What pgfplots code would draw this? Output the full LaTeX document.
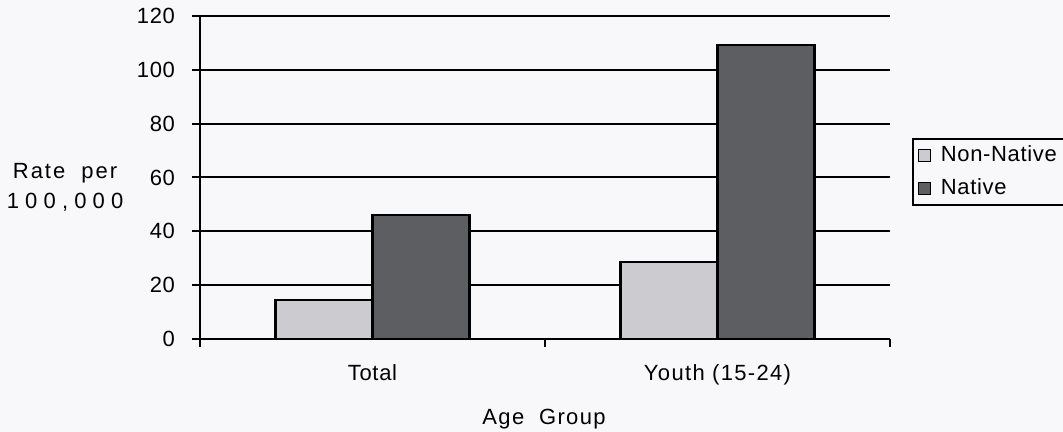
\documentclass[border=0pt]{standalone}
\usepackage{fontspec}
\setmainfont[LetterSpace=3]{Liberation Sans}
\newfontfamily\ylabfont[LetterSpace=28]{Liberation Sans}
\newfontfamily\ylabfontb[LetterSpace=9]{Liberation Sans}
\newfontfamily\midfont[LetterSpace=6]{Liberation Sans}
\usepackage{pgfplots}
\pgfplotsset{compat=1.18}
\definecolor{bgc}{RGB}{248,248,250}
\definecolor{nonnat}{RGB}{204,204,208}
\definecolor{nat}{RGB}{92,94,98}
\begin{document}
\begin{tikzpicture}[font=\fontsize{11}{13}\selectfont]
\fill[bgc] (-100pt,-46.5pt) rectangle (431.5pt,169.5pt);
\useasboundingbox (-100pt,-46.5pt) rectangle (431.5pt,169.5pt);
\begin{axis}[
  at={(0,0)}, anchor=origin,
  scale only axis, width=345pt, height=161.5pt,
  xmin=0, xmax=2, ymin=0, ymax=120,
  axis x line*=bottom, axis y line*=left,
  axis line style={line width=1pt, -},
  ytick={0,20,...,120},
  xtick={0,1,2}, xticklabels={},
  extra x ticks={0.5,1.5},
  extra x tick labels={Total,{\midfont Youth (15-24)}},
  extra x tick style={major tick length=0pt, xticklabel style={yshift=-9pt}},
  tick align=outside, major tick length=4pt,
  tick style={line width=1pt, black},
  ymajorgrids, grid style={line width=1pt, black},
  /pgf/number format/assume math mode=true,
  ticklabel style={font=\fontsize{11}{13}\selectfont},
  yticklabel style={xshift=-5pt},
  ybar=0pt, bar width=48.5pt,
  legend style={at={(rel axis cs:1.032,0.622)}, anchor=north west,
    draw=black, line width=0.8pt, fill=none, inner xsep=2pt, inner ysep=1.5pt,
    row sep=3pt, font=\fontsize{11}{13}\selectfont, cells={anchor=west}},
  legend image code/.code={\draw[#1, line width=0.6pt] (1pt,-3pt) rectangle (7pt,3pt); \path[draw=none, fill=none] (0pt,0pt) -- (10pt,0pt);},
  clip=false,
]
\addplot[fill=nonnat, draw=black, line width=1.2pt] coordinates {(0.5,14.5) (1.5,28.6)};
\addplot[fill=nat, draw=black, line width=1.2pt] coordinates {(0.5,46.1) (1.5,109.3)};
\legend{Non-Native,Native}
\node[align=center, inner sep=0pt] at (axis cs:-0.391,56.5) {{\ylabfontb\fontsize{11}{9}\selectfont Rate\ \ per}\\[2pt]{\ylabfont\fontsize{11}{9}\selectfont 100,000}};
\node[font=\midfont\fontsize{11}{13}\selectfont] at (rel axis cs:0.4986,-0.2475) {Age\ \ Group};
\end{axis}
\end{tikzpicture}
\end{document}
